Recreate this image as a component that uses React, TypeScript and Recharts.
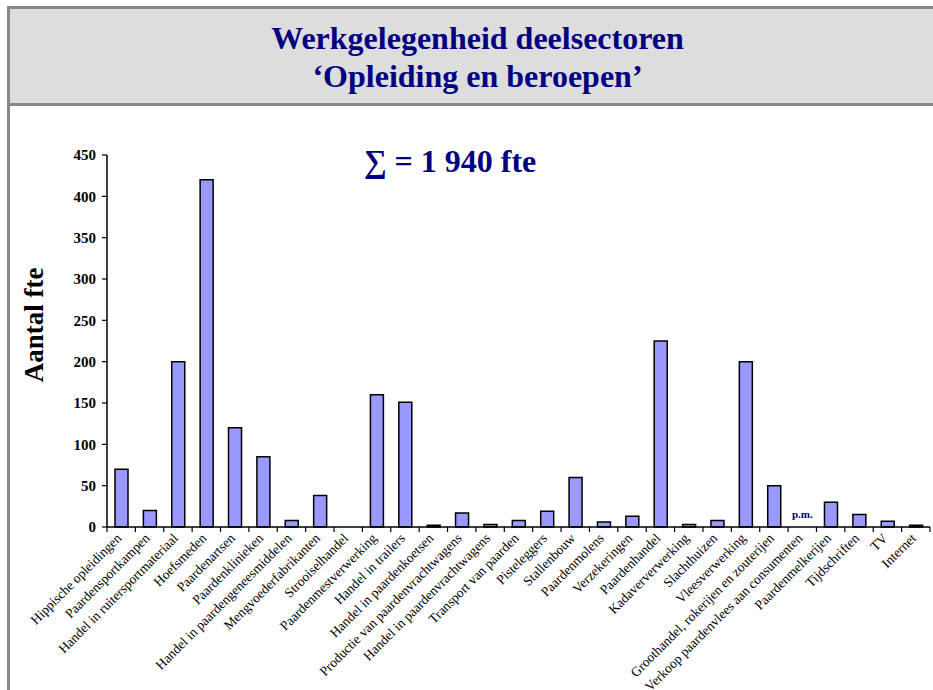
import React from 'react';
import { BarChart, Bar, XAxis, YAxis } from 'recharts';

const categories = [
  'Hippische opleidingen',
  'Paardensportkampen',
  'Handel in ruitersportmateriaal',
  'Hoefsmeden',
  'Paardenartsen',
  'Paardenklinieken',
  'Handel in paardengeneesmiddelen',
  'Mengvoederfabrikanten',
  'Strooiselhandel',
  'Paardenmestverwerking',
  'Handel in trailers',
  'Handel in paardenkoetsen',
  'Productie van paardenvrachtwagens',
  'Handel in paardenvrachtwagens',
  'Transport van paarden',
  'Pisteleggers',
  'Stallenbouw',
  'Paardenmolens',
  'Verzekeringen',
  'Paardenhandel',
  'Kadaververwerking',
  'Slachthuizen',
  'Vleesverwerking',
  'Groothandel, rokerijen en zouterijen',
  'Verkoop paardenvlees aan consumenten',
  'Paardenmelkerijen',
  'Tijdschriften',
  'TV',
  'Internet',
];

const fteValues = [70, 20, 200, 420, 120, 85, 8, 38, 0, 160, 151, 2, 17, 3, 8, 19, 60, 6, 13, 225, 3, 8, 200, 50, 0, 30, 15, 7, 2];

const notes = ['', '', '', '', '', '', '', '', '', '', '', '', '', '', '', '', '', '', '', '', '', '', '', '', 'p.m.', '', '', '', ''];

const yTicks = [0, 50, 100, 150, 200, 250, 300, 350, 400, 450];

const titleLines = ['Werkgelegenheid deelsectoren', '\u2018Opleiding en beroepen\u2019'];
const sumText = '\u2211 = 1 940 fte';
const yLabel = 'Aantal fte';

const data = categories.map((name, i) => ({ name, fte: fteValues[i], note: notes[i] }));

const NAVY = '#000080';
const SERIF = '"Liberation Serif", "Times New Roman", serif';

const XTick = (props: any) => {
  const { x, y, payload, index, visibleTicksCount } = props;
  const count = visibleTicksCount || categories.length;
  const w = typeof props.width === 'number' ? props.width : 823;
  const bw = w / count;
  const note = notes[index];
  return (
    <g>
      <line x1={x - bw / 2} x2={x - bw / 2} y1={y} y2={y + 5} stroke="#000" strokeWidth={1.2} />
      {index === count - 1 && (
        <line x1={x + bw / 2} x2={x + bw / 2} y1={y} y2={y + 5} stroke="#000" strokeWidth={1.2} />
      )}
      {note ? (
        <text x={x} y={y - 9} textAnchor="middle" fontFamily={SERIF} fontWeight="bold" fontSize={11} fill={NAVY}>
          {note}
        </text>
      ) : null}
      <text
        x={x + 1}
        y={y + 12}
        transform={`rotate(-45 ${x + 1} ${y + 12})`}
        textAnchor="end"
        fontFamily={SERIF}
        fontSize={13.5}
        fill="#000"
      >
        {payload.value}
      </text>
    </g>
  );
};

const YLabel = () => (
  <text
    x={0}
    y={0}
    transform="translate(43 325) rotate(-90)"
    textAnchor="middle"
    fontFamily={SERIF}
    fontWeight="bold"
    fontSize={27}
    fill="#000"
  >
    {yLabel}
  </text>
);

export default function App() {
  return (
    <div
      style={{
        position: 'absolute',
        left: 0,
        top: 0,
        width: 933,
        height: 690,
        background: '#fff',
        overflow: 'hidden',
        fontFamily: SERIF,
      }}
    >
      {/* frame */}
      <div style={{ position: 'absolute', left: 7, top: 6, width: 926, height: 3, background: '#888' }} />
      <div style={{ position: 'absolute', left: 7, top: 6, width: 3, height: 684, background: '#888' }} />
      <div style={{ position: 'absolute', left: 10, top: 9, width: 923, height: 94, background: '#DDDDDD' }} />
      <div style={{ position: 'absolute', left: 7, top: 103, width: 926, height: 3, background: '#888' }} />
      {/* title */}
      <div
        style={{
          position: 'absolute',
          left: 10,
          top: 19,
          width: 923,
          textAlign: 'center',
          color: NAVY,
          fontWeight: 'bold',
          fontSize: 32,
          lineHeight: '38px',
          fontFamily: SERIF,
        }}
      >
        <div style={{ paddingLeft: 12 }}>{titleLines[0]}</div>
        <div style={{ paddingLeft: 12 }}>{titleLines[1]}</div>
      </div>
      {/* sum */}
      <div
        style={{
          position: 'absolute',
          left: 300,
          top: 142,
          width: 300,
          textAlign: 'center',
          color: NAVY,
          fontWeight: 'bold',
          fontSize: 32,
          lineHeight: '38px',
          fontFamily: SERIF,
        }}
      >
        {sumText}
      </div>
      <div style={{ position: 'absolute', left: 0, top: 0 }}>
        <BarChart
          width={933}
          height={690}
          data={data}
          margin={{ top: 155, right: 3, bottom: 133, left: 0 }}
          barSize={13}
        >
          <XAxis
            dataKey="name"
            type="category"
            interval={0}
            height={30}
            tickSize={0}
            tickMargin={0}
            tickLine={false}
            axisLine={{ stroke: '#000', strokeWidth: 1.5 }}
            tick={<XTick />}
          />
          <YAxis
            width={107}
            domain={[0, 450]}
            ticks={yTicks}
            interval={0}
            tickSize={5}
            tickMargin={6}
            axisLine={{ stroke: '#000', strokeWidth: 1.5 }}
            tickLine={{ stroke: '#000', strokeWidth: 1.2 }}
            tick={{ fill: '#000', fontFamily: SERIF, fontWeight: 'bold', fontSize: 15 }}
            label={<YLabel />}
          />
          <Bar dataKey="fte" fill="#9999FF" stroke="#000" strokeWidth={1.5} isAnimationActive={false} />
        </BarChart>
      </div>
    </div>
  );
}
